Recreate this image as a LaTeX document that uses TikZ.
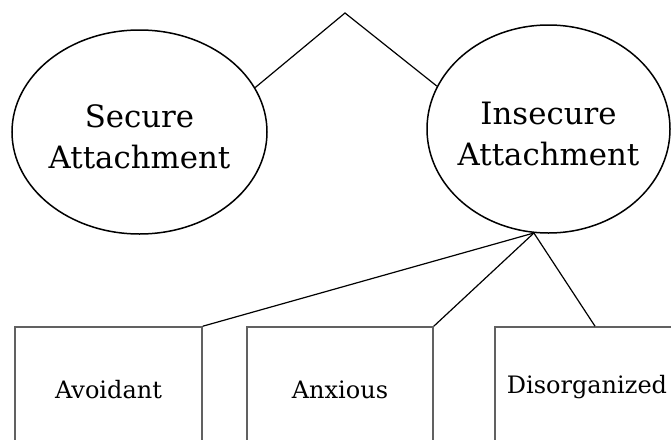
\documentclass[tikz,border=0pt]{standalone}
\usepackage{fontspec}
\setmainfont{DejaVu Serif}
\usetikzlibrary{shapes.geometric}
\newcommand{\toplift}{\rule{0pt}{31.5pt}}
\begin{document}
\begin{tikzpicture}[x=1pt,y=-1pt,
  bubble/.style={ellipse,draw=black,line width=1.5pt,inner xsep=-30pt,inner ysep=0pt,align=center,font=\fontsize{30.8}{41}\selectfont},
  typebox/.style={rectangle,draw=black!62,line width=1.6pt,inner sep=0pt,font=\fontsize{24}{28}\selectfont},
  link/.style={draw=black,line width=1.2pt}]
\useasboundingbox (0,0) rectangle (671,439);
\begin{scope}
\clip (0,0) rectangle (671,439);
\node[bubble,minimum width=255pt,minimum height=204pt] (sec) at (139.5,132) {\toplift Secure\\Attachment};
\node[bubble,minimum width=243pt,minimum height=208pt] (ins) at (548.5,129) {\toplift Insecure\\Attachment};
\coordinate (apex) at (345,13);
\draw[link] (sec.21) -- (apex) -- (ins.159.4);
\node[typebox,minimum width=187pt,minimum height=126pt] (av) at (108.5,390) {Avoidant};
\node[typebox,minimum width=186pt,minimum height=126pt] (ax) at (340,390) {Anxious};
\node[typebox,minimum width=184pt,minimum height=120pt] (dis) at (587,387) {Disorganized};
\draw[link] (ins.262.6) -- (av.north east);
\draw[link] (ins.262.6) -- (ax.north east);
\draw[link] (ins.262.6) -- ([xshift=8pt]dis.north);
\end{scope}
\end{tikzpicture}
\end{document}
